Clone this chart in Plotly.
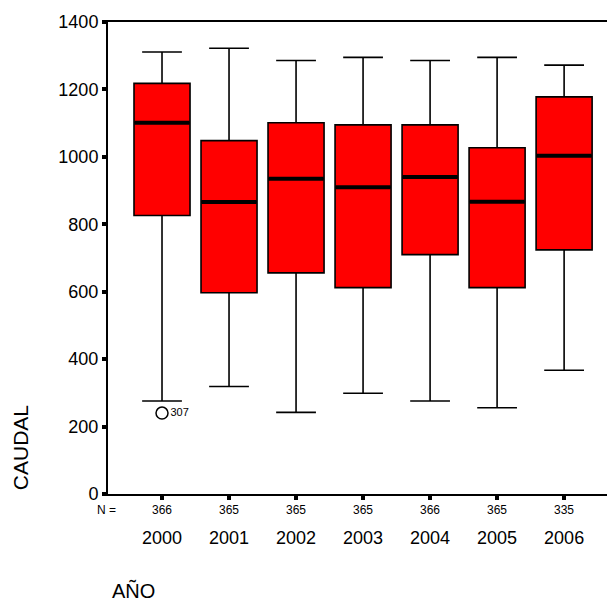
import plotly.graph_objects as go

# Annual flow (CAUDAL) summary per year
years = ["2000", "2001", "2002", "2003", "2004", "2005", "2006"]
counts = [366, 365, 365, 365, 366, 365, 335]
upper_whisker = [1311, 1322, 1286, 1295, 1286, 1295, 1272]
q3 = [1218, 1048, 1101, 1095, 1095, 1027, 1178]
median = [1101, 866, 935, 910, 940, 867, 1003]
q1 = [826, 597, 656, 612, 710, 612, 724]
lower_whisker = [276, 319, 242, 299, 276, 256, 367]

# Outlying case
outlier_year_index = [0]
outlier_value = [240]
outlier_case = ["307"]

yticks = [0, 200, 400, 600, 800, 1000, 1200, 1400]

FONT = "Liberation Sans, Arial, sans-serif"
pos = list(range(len(years)))

fig = go.Figure()

fig.add_trace(go.Box(
    x=pos,
    q1=q1, median=median, q3=q3,
    lowerfence=lower_whisker, upperfence=upper_whisker,
    fillcolor="#ff0000",
    line=dict(color="black", width=1.6),
    width=0.836,
    whiskerwidth=0.71,
    boxpoints=False,
    hoverinfo="skip",
    showlegend=False,
))

# Heavier median bars (line-ew spans 1.4 x marker size)
fig.add_trace(go.Scatter(
    x=pos, y=median,
    mode="markers",
    marker=dict(symbol="line-ew", size=39.5, line=dict(width=4, color="black")),
    hoverinfo="skip",
    showlegend=False,
))

fig.add_trace(go.Scatter(
    x=outlier_year_index, y=outlier_value,
    mode="markers+text",
    marker=dict(symbol="circle-open", size=12, color="black", line=dict(width=1.5)),
    text=outlier_case,
    textposition="middle right",
    textfont=dict(family=FONT, size=11, color="black"),
    hoverinfo="skip",
    showlegend=False,
))

annotations = []
for i, n in enumerate(counts):
    annotations.append(dict(
        x=i, y=0, xref="x", yref="paper", yshift=-16,
        text=str(n), showarrow=False, yanchor="middle",
        font=dict(family=FONT, size=12, color="black"),
    ))
annotations.append(dict(
    x=-0.003, y=0, xref="paper", yref="paper", yshift=-16,
    text="N =", showarrow=False, yanchor="middle", xanchor="center",
    font=dict(family=FONT, size=12, color="black"),
))
annotations.append(dict(
    x=-0.174, y=0.0975, xref="paper", yref="paper",
    text="CAUDAL", textangle=-90, showarrow=False,
    xanchor="center", yanchor="middle",
    font=dict(family=FONT, size=21, color="black"),
))
annotations.append(dict(
    x=0.052, y=-0.2055, xref="paper", yref="paper",
    text="AÑO", showarrow=False,
    xanchor="center", yanchor="middle",
    font=dict(family=FONT, size=20, color="black"),
))

fig.update_layout(
    width=607, height=601,
    margin=dict(l=108, r=0, t=22, b=107, pad=0),
    paper_bgcolor="white", plot_bgcolor="white",
    font=dict(family=FONT, color="black"),
    annotations=annotations,
    xaxis=dict(
        range=[-0.806, 6.64],
        tickvals=pos, ticktext=years,
        ticks="outside", ticklen=4, tickwidth=4, tickcolor="black",
        showline=True, linewidth=2, linecolor="black", mirror=True,
        showgrid=False, zeroline=False,
        tickfont=dict(family=FONT, size=18, color="black"),
        ticklabelstandoff=22,
    ),
    yaxis=dict(
        range=[0, 1400],
        tickvals=yticks,
        ticks="outside", ticklen=4, tickwidth=4, tickcolor="black",
        showline=True, linewidth=2, linecolor="black",
        showgrid=False, zeroline=False,
        tickfont=dict(family=FONT, size=18, color="black"),
    ),
)

fig.write_html("out.html")
